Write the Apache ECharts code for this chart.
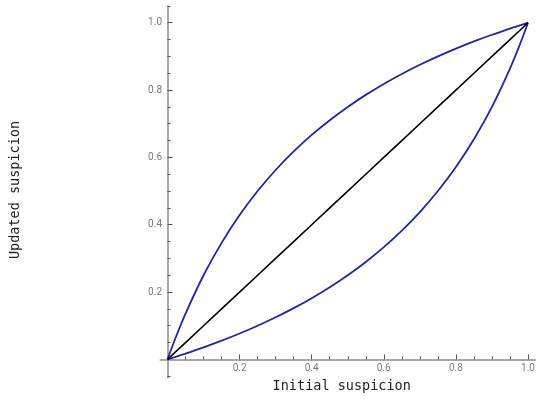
<!DOCTYPE html>
<html>
<head>
<meta charset="utf-8">
<script src="https://cdn.jsdelivr.net/npm/echarts@6/dist/echarts.min.js"></script>
<style>html,body{margin:0;padding:0;background:#fff;}#c{width:540px;height:399px;}</style>
</head>
<body>
<div id="c"></div>
<script>
const initialSuspicion = [0, 0.02, 0.05, 0.1, 0.15, 0.2, 0.25, 0.3, 0.35, 0.4, 0.45, 0.5, 0.55, 0.6, 0.65, 0.7, 0.75, 0.8, 0.85, 0.9, 0.95, 0.98, 1];
const upperCurve = [0, 0.0577, 0.136, 0.25, 0.346, 0.4286, 0.5, 0.5625, 0.6176, 0.6667, 0.7105, 0.75, 0.7857, 0.8182, 0.8478, 0.875, 0.9, 0.9231, 0.9444, 0.9643, 0.9828, 0.9932, 1];
const lowerCurve = [0, 0.0068, 0.0172, 0.0357, 0.0556, 0.0769, 0.1, 0.125, 0.1522, 0.1818, 0.2143, 0.25, 0.2895, 0.3333, 0.3824, 0.4375, 0.5, 0.5714, 0.6538, 0.75, 0.8636, 0.9423, 1];
const diagonal = [0, 0.02, 0.05, 0.1, 0.15, 0.2, 0.25, 0.3, 0.35, 0.4, 0.45, 0.5, 0.55, 0.6, 0.65, 0.7, 0.75, 0.8, 0.85, 0.9, 0.95, 0.98, 1];
const majorTicks = [0.2, 0.4, 0.6, 0.8, 1.0];
const xMinorTicks = [0.05, 0.1, 0.15, 0.25, 0.3, 0.35, 0.45, 0.5, 0.55, 0.65, 0.7, 0.75, 0.85, 0.9, 0.95];
const yMinorTicks = [-0.05, 0.05, 0.1, 0.15, 0.25, 0.3, 0.35, 0.45, 0.5, 0.55, 0.65, 0.7, 0.75, 0.85, 0.9, 0.95, 1.05];
const xTitle = 'Initial suspicion';
const yTitle = 'Updated suspicion';

const pair = (xs, ys) => xs.map((x, i) => [x, ys[i]]);
const axisGray = '#8a8a8a';
const labelStyle = { color: '#7a7a7a', fontSize: 10, fontFamily: 'Roboto' };

const chart = echarts.init(document.getElementById('c'), null, { renderer: 'canvas' });
chart.setOption({
  animation: false,
  backgroundColor: '#fff',
  grid: { left: 160.3, right: 4.8, top: 5.9, bottom: 21.1, containLabel: false },
  xAxis: [
    {
      type: 'value', min: -0.02, max: 1.02, position: 'bottom',
      axisLine: { show: true, onZero: true, onZeroAxisIndex: 0, lineStyle: { color: axisGray, width: 1.5 } },
      axisTick: { show: true, inside: true, length: 5, customValues: majorTicks, lineStyle: { color: '#555', width: 1 } },
      axisLabel: { show: true, customValues: majorTicks, margin: -14.5, formatter: v => v.toFixed(1), ...labelStyle },
      splitLine: { show: false }
    },
    {
      type: 'value', min: -0.02, max: 1.02, position: 'bottom',
      axisLine: { show: false, onZero: true, onZeroAxisIndex: 0 },
      axisTick: { show: true, inside: true, length: 3, customValues: xMinorTicks, lineStyle: { color: '#555', width: 1 } },
      axisLabel: { show: false },
      splitLine: { show: false }
    }
  ],
  yAxis: [
    {
      type: 'value', min: -0.055, max: 1.05, position: 'left',
      axisLine: { show: true, onZero: true, onZeroAxisIndex: 0, lineStyle: { color: axisGray, width: 1.5 } },
      axisTick: { show: true, inside: true, length: 5, customValues: majorTicks, lineStyle: { color: '#555', width: 1 } },
      axisLabel: { show: true, customValues: majorTicks, margin: -1.7, formatter: v => v.toFixed(1), ...labelStyle },
      splitLine: { show: false }
    },
    {
      type: 'value', min: -0.055, max: 1.05, position: 'left',
      axisLine: { show: false, onZero: true, onZeroAxisIndex: 0 },
      axisTick: { show: true, inside: true, length: 3, customValues: yMinorTicks, lineStyle: { color: '#555', width: 1 } },
      axisLabel: { show: false },
      splitLine: { show: false }
    }
  ],
  graphic: [
    { type: 'text', x: 341.7, y: 386.7, style: { text: xTitle, fontFamily: 'DejaVu Sans Mono', fontSize: 13.5, fill: '#222', align: 'center', verticalAlign: 'middle' } },
    { type: 'text', x: 15, y: 190, rotation: Math.PI / 2, style: { text: yTitle, fontFamily: 'DejaVu Sans Mono', fontSize: 13.5, fill: '#222', align: 'center', verticalAlign: 'middle' } }
  ],
  series: [
    { type: 'line', xAxisIndex: 0, yAxisIndex: 0, data: pair(initialSuspicion, upperCurve), smooth: 0.3, showSymbol: false, lineStyle: { color: '#2525a0', width: 1.8 } },
    { type: 'line', xAxisIndex: 0, yAxisIndex: 0, data: pair(initialSuspicion, lowerCurve), smooth: 0.3, showSymbol: false, lineStyle: { color: '#2525a0', width: 1.8 } },
    { type: 'line', xAxisIndex: 0, yAxisIndex: 0, data: pair(initialSuspicion, diagonal), smooth: false, showSymbol: false, lineStyle: { color: '#000', width: 1.6 } }
  ]
});
</script>
</body>
</html>
